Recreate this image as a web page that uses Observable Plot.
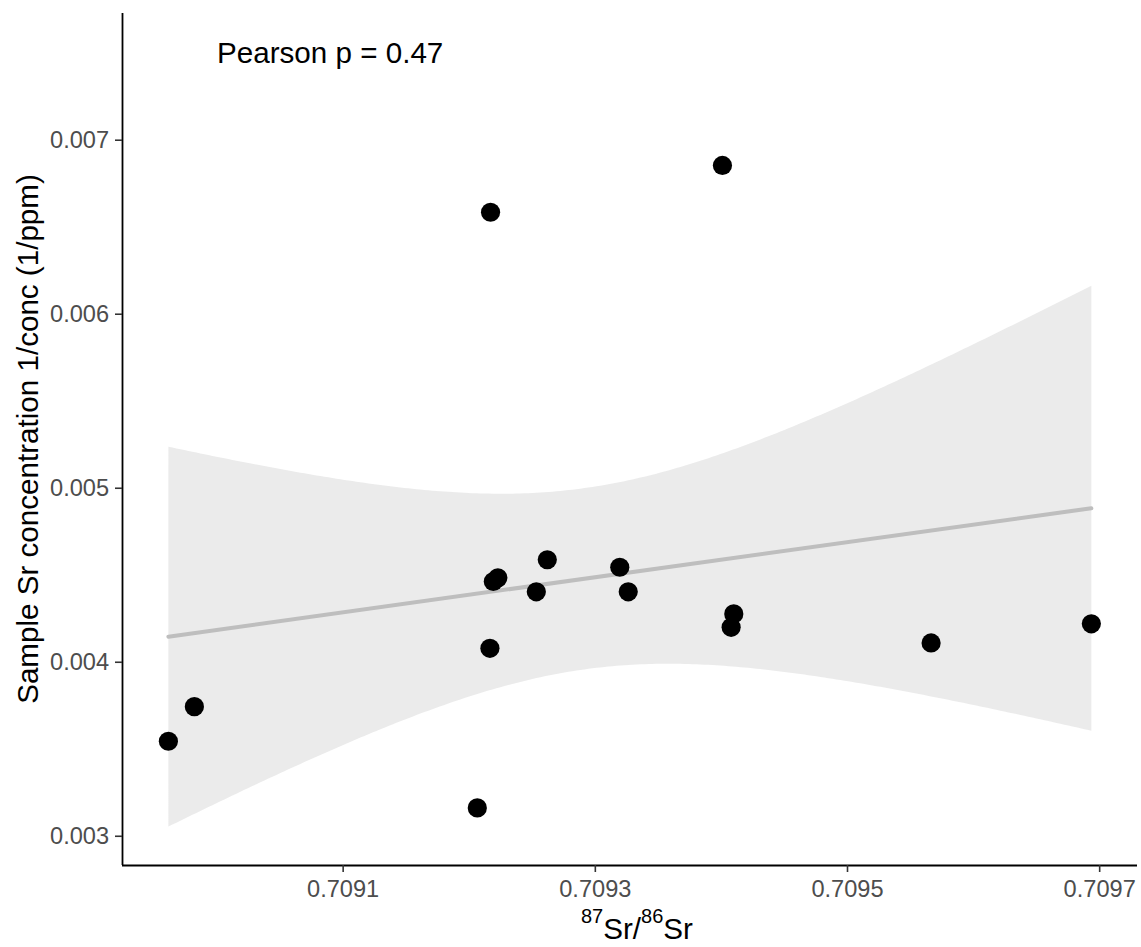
<!DOCTYPE html>
<html>
<head>
<meta charset="utf-8">
<script src="https://cdn.jsdelivr.net/npm/d3@7"></script>
<script src="https://cdn.jsdelivr.net/npm/@observablehq/plot@0.6"></script>
<style>
  html, body { margin: 0; padding: 0; background: white; }
</style>
</head>
<body>
<div id="chart"></div>
<script>
// 87Sr/86Sr ratio of each sample
const srRatio = [0.7089614, 0.7089820, 0.7092064, 0.7092164, 0.7092169, 0.7092191, 0.7092227, 0.7092532,
                 0.7092619, 0.7093194, 0.7093261, 0.7094008, 0.7094077, 0.7094098, 0.7095663, 0.7096934];
// Sample Sr concentration 1/conc (1/ppm)
const invConc = [0.003546, 0.003745, 0.003163, 0.004080, 0.006586, 0.004464, 0.004485, 0.004405,
                 0.004589, 0.004546, 0.004405, 0.006855, 0.004201, 0.004278, 0.004111, 0.004221];

const xTicks = [0.7091, 0.7093, 0.7095, 0.7097];
const yTicks = [0.003, 0.004, 0.005, 0.006, 0.007];

const annotationText = "Pearson p = 0.47";
const annotationX = 0.7090;
const annotationY = 0.0075;

const xTitleParts = [["87", true], ["Sr/", false], ["86", true], ["Sr", false]];
const yTitle = "Sample Sr concentration 1/conc (1/ppm)";

const data = srRatio.map((x, i) => ({x, y: invConc[i]}));

const xDomain = [0.708925, 0.709730];
const yDomain = [0.002832, 0.0077282];

const tickFont = 23.6;
const titleFont = 29.6;

const svg = Plot.plot({
  width: 1141,
  height: 947,
  marginLeft: 122,
  marginRight: 4,
  marginTop: 13,
  marginBottom: 82,
  style: {fontFamily: "'Liberation Sans', Arial, sans-serif", background: "white"},
  x: {domain: xDomain, label: null},
  y: {domain: yDomain, label: null},
  marks: [
    Plot.linearRegressionY(data, {
      x: "x", y: "y", ci: 0.95,
      stroke: "#BEBEBE", strokeWidth: 4,
      fill: "#999999", fillOpacity: 0.2
    }),
    Plot.dot(data, {x: "x", y: "y", r: 9.6, fill: "black", stroke: "none"}),
    Plot.ruleX([xDomain[0]], {stroke: "black", strokeWidth: 1.8}),
    Plot.ruleY([yDomain[0]], {stroke: "black", strokeWidth: 1.8}),
    Plot.axisX(xTicks, {
      tickSize: 7, tickPadding: 8, stroke: "#333333", strokeWidth: 1.6,
      fill: "#4D4D4D", fontSize: tickFont, tickFormat: d => d.toFixed(4), label: null
    }),
    Plot.axisY(yTicks, {
      tickSize: 7, tickPadding: 6.4, stroke: "#333333", strokeWidth: 1.6,
      fill: "#4D4D4D", fontSize: tickFont, tickFormat: d => d.toFixed(3), label: null
    }),
    Plot.text([annotationText], {
      x: () => annotationX, y: () => annotationY, text: d => d,
      textAnchor: "start", fontSize: titleFont, fill: "black"
    })
  ]
});

document.getElementById("chart").appendChild(svg);

// axis titles (with superscripts for the isotope ratio)
const s = d3.select(svg);
const xt = s.append("text")
  .attr("x", 581).attr("y", 939.3)
  .attr("text-anchor", "start")
  .attr("fill", "black")
  .attr("font-size", titleFont);
const supShift = 16.6;
let raised = false;
for (const [part, sup] of xTitleParts) {
  const ts = xt.append("tspan").text(part).attr("font-size", sup ? 20 : titleFont);
  if (sup && !raised) { ts.attr("dy", -supShift); raised = true; }
  else if (!sup && raised) { ts.attr("dy", supShift); raised = false; }
}

s.append("text")
  .attr("transform", "translate(38.3,439) rotate(-90)")
  .attr("text-anchor", "middle")
  .attr("fill", "black")
  .attr("font-size", titleFont)
  .text(yTitle);
</script>
</body>
</html>
